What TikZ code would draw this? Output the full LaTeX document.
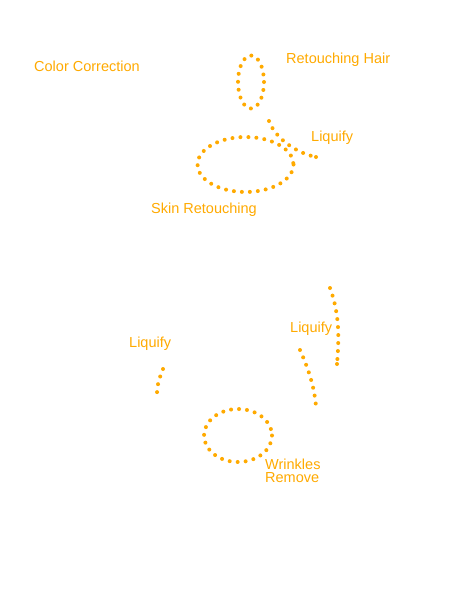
\documentclass[tikz,border=0pt]{standalone}
\usepackage{fontspec}
\setmainfont{Liberation Sans}
\definecolor{ora}{RGB}{255,170,0}
\begin{document}
\begin{tikzpicture}[x=1pt,y=-1pt,
  dots/.style={draw=ora,line width=4pt,line cap=round,dash pattern=on 0pt off 8pt},
  enddot/.style={fill=ora},
  lbl/.style={text=ora,font=\fontsize{14.5}{13.5}\selectfont,inner sep=0pt,anchor=west,align=left}]
\useasboundingbox (0,0) rectangle (460,600);
\fill[white] (0,0) rectangle (460,600);
% shapes
\draw[dots] (251,82) ellipse [x radius=13, y radius=26.5];
\draw[dots] (245.5,164.5) ellipse [x radius=48, y radius=27.5];
\draw[dots] (238,435.5) ellipse [x radius=34, y radius=26.5];
\draw[dots] (269,121) .. controls (275,138) and (296,153) .. (316,157);
\fill[enddot] (316,157) circle [radius=2];
\draw[dots] (330,288) .. controls (340,315) and (339,340) .. (337,364);
\fill[enddot] (337,364) circle [radius=2];
\draw[dots] (163,369) .. controls (159,379) and (157,386) .. (157,393);
\draw[dots] (300,350) .. controls (308,368) and (314,385) .. (316,406);
% labels
\node[lbl] (cc) at (34,66.5) {Color Correction};
\node[lbl] (rh) at (286,59.5) {Retouching Hair};
\node[lbl] (lq1) at (311,137.5) {Liquify};
\node[lbl] (sr) at (151,209.5) {Skin Retouching};
\node[lbl] (lq2) at (290,328.5) {Liquify};
\node[lbl] (lq3) at (129,343.5) {Liquify};
\node[lbl] (wr) at (265,471) {Wrinkles\\Remove};
\end{tikzpicture}
\end{document}
